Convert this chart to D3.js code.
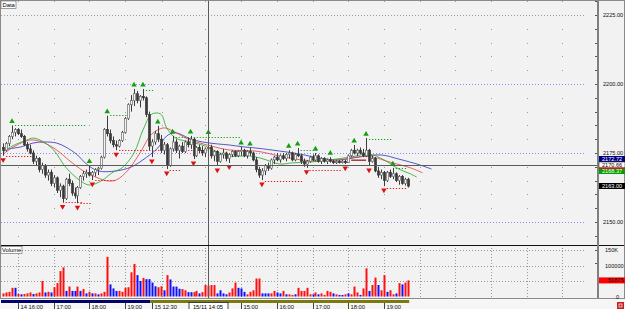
<!DOCTYPE html>
<html>
<head>
<meta charset="utf-8">
<script src="https://cdn.jsdelivr.net/npm/d3@7/dist/d3.min.js"></script>
<style>
  body { margin: 0; background: #fff; }
  svg { display: block; font-family: "Liberation Sans", Arial, sans-serif; }
</style>
</head>
<body>
<div id="chart"></div>
<script>
// 5-minute candles, bar index 0 = 14 Nov 15:35 ... 136 = 15 Nov 19:40
const opens  = [2177,2176,2178.5,2181,2182.5,2183.5,2182,2181,2178,2176.5,2175,2172,2173,2169,2170.5,2167,2168,2164,2166,2161.5,2163,2158.5,2165.5,2164,2160.5,2159.5,2162.5,2166.5,2167.5,2168,2167,2168,2169,2169.5,2173.5,2183.5,2182,2179.5,2178,2177.5,2179.5,2182.5,2187.5,2192.5,2194,2196.5,2194,2195.5,2195,2189,2177.5,2179,2182,2180,2176,2178,2170.5,2176.5,2179,2176,2177.5,2175.5,2179,2178,2180,2174,2177,2176,2175,2176.5,2177,2174,2175.5,2172,2174.5,2175,2173,2174.5,2175.5,2174,2175.5,2176,2174,2175.5,2175,2172.5,2169,2167,2168.5,2170.5,2169.5,2172.5,2173.5,2172.5,2174,2173,2174.5,2175,2172.5,2174.5,2174,2172,2171,2172,2173.5,2172.5,2174,2172,2173,2172,2172.5,2172,2171.5,2172,2171.5,2172,2171.5,2174,2176,2175,2176,2175,2174,2176,2172,2173,2168.5,2167,2168,2165,2168,2166.5,2167.5,2165,2166.5,2164,2165.5];
const highs  = [2178.5,2179,2181.5,2185,2184,2184,2183.5,2181.5,2179,2178,2176,2174,2173.5,2171.5,2171,2169,2169,2167,2166.5,2164,2163.5,2166,2167.5,2165,2162.5,2163,2167,2168.5,2169,2170.5,2168.5,2169.5,2170,2174,2184,2188.5,2183.5,2181,2179.5,2180,2183,2188,2193,2196,2198.2,2197.5,2196,2198.2,2195.5,2190,2180,2183,2184.8,2181.5,2179,2178.6,2177,2181.2,2180,2178,2179,2179.5,2180.5,2181.2,2180.5,2177.5,2178,2177.5,2177,2181,2178,2176,2176,2175,2176.5,2175.5,2175,2176,2176,2176,2177.2,2176.5,2176,2176.8,2175.5,2173.5,2170,2169.5,2171,2171.5,2173,2174,2175,2174.5,2175,2175,2176,2175.5,2175,2176.8,2174.5,2173,2172.5,2174,2174.5,2175,2174.5,2173.5,2173.5,2173,2173.5,2172.5,2172.5,2172.5,2172.5,2172.5,2174.5,2176.5,2177.9,2176.5,2177,2176.5,2180.4,2176.5,2174,2173.5,2170,2169,2168.5,2168.5,2169,2169.6,2168,2167,2167,2166,2166];
const lows   = [2174,2175.5,2177.5,2180,2181,2181.5,2180.5,2177.5,2175.5,2174.5,2171,2170.5,2168,2167.5,2166,2165,2163,2162.5,2160.5,2159,2157,2158,2163,2159.5,2158.5,2156.8,2162,2165,2166,2166.5,2165.2,2166.5,2167,2169,2173,2181,2178.5,2177,2176,2177,2179,2182,2187,2190,2192,2193,2191.5,2194,2188,2176,2173.5,2178,2179,2175,2174.5,2169.2,2170,2175.5,2175,2173,2175,2175,2177,2176.5,2172.8,2173.5,2175,2174,2173.5,2175.5,2173,2172,2170.3,2171.5,2173,2172,2171.4,2173.5,2173.5,2173.5,2174,2173.5,2173,2174,2172,2168,2166,2165.2,2167,2168.5,2169,2171,2172,2171.5,2172.5,2172,2173,2172,2172,2173.5,2171,2170,2169.6,2171.5,2172,2172,2171.5,2171,2171.5,2171,2171.5,2171,2171,2171.2,2171.2,2171,2171.5,2173.5,2174.5,2174,2174.5,2173.5,2173.5,2170.3,2171.5,2168,2166,2165.5,2163,2164.5,2166,2165.5,2164.5,2163.5,2163.5,2163.2,2162.5];
const closes = [2176,2178.5,2181,2182.5,2183.5,2182,2181,2178,2176.5,2175,2172,2173,2169,2170.5,2167,2168,2164,2166,2161.5,2163,2158.5,2165.5,2164,2160.5,2159.5,2162.5,2166.5,2167.5,2168,2167,2168,2169,2169.5,2173.5,2183.5,2182,2179.5,2178,2177.5,2179.5,2182.5,2187.5,2192.5,2194,2196.5,2194,2195.5,2195,2189,2177.5,2179,2182,2180,2176,2178,2170.5,2176.5,2179,2176,2177.5,2175.5,2179,2178,2180,2174,2177,2176,2175,2176.5,2177,2174,2175.5,2172,2174.5,2175,2173,2174.5,2175.5,2174,2175.5,2176,2174,2175.5,2175,2172.5,2169,2167,2168.5,2170.5,2169.5,2172.5,2173.5,2172.5,2174,2173,2174.5,2175,2172.5,2174.5,2174,2172,2171,2172,2173.5,2172.5,2174,2172,2173,2172,2172.5,2172,2171.5,2172,2171.5,2172,2171.5,2174,2176,2175,2176,2175,2174,2176,2172,2173,2168.5,2167,2168,2165,2168,2166.5,2167.5,2165,2166.5,2164,2165.5,2163];
// volume (thousands) and bar colour as drawn, ten bars per row
const volumes = [
  10,13,15,28,28,8,7,8,10,13,
  8,10,13,50,13,15,13,30,43,82,
  94,18,32,18,18,32,18,24,10,15,
  10,10,7,10,15,128,39,26,18,18,
  15,28,30,78,105,69,50,60,56,56,
  45,33,30,33,20,69,55,32,32,25,
  24,20,14,14,14,18,10,14,37,35,
  37,37,10,20,10,7,13,26,45,28,
  26,15,7,15,20,58,58,10,10,10,
  10,18,13,10,18,7,7,5,7,28,
  18,18,28,7,7,13,7,10,5,18,
  15,10,7,5,5,7,10,7,32,13,
  5,26,91,18,37,61,37,20,69,15,
  20,7,10,43,39,45,52];
const volColors = [
  'rrrrbrbrrr','brrrbrbrrr','rbrbbrbrbr','brbrrrbbbr','rrrrrbbrbb',
  'bbrrbrbbbb','rrbbrrbrrr','rrbbbbrrrb','bbrrrrrbbb','rrbbrbrrbr',
  'rrrrbrbrrr','rbrbbrbrrr','brrbrrbrrb','rrbrbrr'].join('');

// Alligator lines: [bar index, price]
const jaw   = [[0,2175.7],[2,2176.5],[6,2177.2],[10,2178.6],[14,2179.0],[18,2178.6],[21,2177.2],[25,2174.3],[28,2171.0],[32,2168.5],[38,2168.5],[43,2169.9],[47,2172.5],[52,2176.8],[55,2181.2],[58,2182.3],[63,2180.1],[67,2179.0],[72,2178.3],[76,2177.9],[81,2177.2],[85,2176.8],[93,2175.7],[100,2174.6],[106,2173.2],[113,2172.5],[120,2173.6],[127,2174.3],[133,2172.8],[140,2170.7],[144,2169.2]];
const teeth = [[0,2174.6],[4,2177.5],[9,2179.7],[13,2179.0],[18,2176.1],[22,2172.5],[27,2168.5],[32,2165.9],[35,2164.9],[38,2165.2],[42,2168.8],[46,2175.0],[50,2181.9],[54,2184.1],[57,2183.0],[62,2180.1],[65,2179.0],[70,2177.5],[76,2176.1],[85,2175.7],[93,2173.9],[100,2172.5],[106,2172.1],[113,2172.5],[119,2173.6],[124,2173.6],[130,2171.7],[137,2169.6],[141,2167.8]];
const lips  = [[0,2175.4],[3,2177.5],[8,2179.7],[10,2180.4],[13,2179.4],[17,2176.1],[21,2169.9],[26,2164.9],[29,2163.4],[33,2164.9],[37,2168.1],[40,2169.6],[44,2175.0],[47,2183.3],[50,2189.1],[53,2189.1],[55,2184.1],[58,2180.4],[63,2179.0],[68,2177.5],[72,2175.4],[76,2173.9],[83,2173.9],[87,2173.0],[93,2171.0],[97,2171.4],[103,2171.7],[110,2172.5],[117,2173.6],[123,2174.6],[128,2172.5],[133,2169.2],[137,2167.4],[139,2166.3]];

// fractals: [bar index, price]
const fractalUp   = [[3,2185],[29,2170.5],[35,2188.5],[44,2198.2],[47,2198.2],[52,2184.8],[57,2181.2],[63,2181.2],[69,2181],[80,2177.2],[83,2176.8],[96,2176],[99,2176.8],[105,2175],[110,2173.5],[118,2177.9],[122,2180.4],[131,2169.6]];
const fractalDown = [[0,2174],[20,2157],[25,2156.8],[30,2165.2],[38,2176],[50,2173.5],[55,2169.2],[64,2172.8],[72,2170.3],[76,2171.4],[87,2165.2],[102,2169.6],[115,2171],[123,2170.3],[128,2163]];
// fractal levels: [from, to, price]
const upLevels   = [[4,28,2185],[36,42,2188.8],[48,51,2197.8],[58,80,2180.9],[100,106,2176.2],[123,131,2180],[132,136,2169.6]];
const downLevels = [[1,10,2173.9],[21,27,2157.2],[26,30,2157],[31,38,2165.2],[39,69,2176],[56,60,2168.8],[73,90,2170.6],[88,101,2165],[103,114,2168.8],[129,136,2162.3]];
// short drawn line: [from, to, price]
const drawnLine = [117, 122, 2172.4];

const priceTicks = [2150, 2175, 2200, 2225];
const gridBars = [5,17,29,41,53.5,68,80,92,104,116,128,140,152,164,176,188];
const timeTicks = [[5,'14 16:00'],[17,'17:00'],[29,'18:00'],[41,'19:00'],[50,'15 12:30'],[80,'15:00'],[92,'16:00'],[104,'17:00'],[116,'18:00'],[128,'19:00']];
const volTicks = [[150000,'150K'],[100000,'100000'],[0,'0']];
const sideLabels = [[2172.72,'#000080','#fff'],[2170.66,'#fff','#000'],[2168.37,'#00a000','#fff'],[2163.00,'#000','#fff']];
const crossBar = 69, crossPrice = 2170.66, lastVolume = 51875;

const W = 625, H = 309;
const axisX = 598;
const svg = d3.select('#chart').append('svg').attr('width', W).attr('height', H);

const x = d3.scaleLinear().domain([0, 136]).range([3.1, 3.1 + 136 * 2.975]);
const y = d3.scaleLinear().domain([2150, 2225]).range([222, 15]);
const yv = d3.scaleLinear().domain([0, 150000]).range([296.5, 250]);

// backgrounds
svg.append('rect').attr('width', W).attr('height', H).attr('fill', '#f2f2f2');
svg.append('rect').attr('x', 0).attr('y', 298).attr('width', W).attr('height', 11).attr('fill', '#f6f6f6');

const defs = svg.append('defs');
defs.append('clipPath').attr('id', 'cp').append('rect').attr('x', 1).attr('y', 1).attr('width', axisX - 1).attr('height', 243);
defs.append('clipPath').attr('id', 'cv').append('rect').attr('x', 1).attr('y', 247).attr('width', axisX - 1).attr('height', 50);

const pricePlot = svg.append('g').attr('clip-path', 'url(#cp)');
const volPlot = svg.append('g').attr('clip-path', 'url(#cv)');

// dot grid on price panel
const dotLevels = d3.range(2135, 2241, 5).filter(p => p % 25 !== 0);
gridBars.forEach(b => {
  pricePlot.selectAll(null).data(dotLevels).enter().append('rect')
    .attr('x', Math.round(x(b))).attr('y', d => Math.round(y(d)))
    .attr('width', 1).attr('height', 1).attr('fill', '#9a9a9a');
});
pricePlot.selectAll('.hgrid').data(priceTicks).enter().append('line')
  .attr('x1', 1).attr('x2', 585)
  .attr('y1', d => Math.round(y(d)) + 0.5).attr('y2', d => Math.round(y(d)) + 0.5)
  .attr('stroke', d => d === 2225 ? '#a09a90' : '#8c8cf0')
  .attr('stroke-dasharray', '1,2');

// volume grid
volPlot.selectAll('.vg').data([50000, 100000, 150000]).enter().append('line')
  .attr('x1', 1).attr('x2', 585)
  .attr('y1', d => Math.round(yv(d)) + 0.5).attr('y2', d => Math.round(yv(d)) + 0.5)
  .attr('stroke', '#9a9a9a').attr('stroke-dasharray', '1,2');
volPlot.selectAll('.vgx').data(gridBars).enter().append('line')
  .attr('x1', d => Math.round(x(d)) + 0.5).attr('x2', d => Math.round(x(d)) + 0.5)
  .attr('y1', 248).attr('y2', 297)
  .attr('stroke', '#9a9a9a').attr('stroke-dasharray', '1,2');

// alligator
const line = d3.line().x(d => x(d[0])).y(d => y(d[1])).curve(d3.curveCatmullRom);
[[jaw, '#3a3ac0'], [teeth, '#e04848'], [lips, '#2eaa2e']].forEach(([d, c]) => {
  pricePlot.append('path').datum(d).attr('d', line)
    .attr('fill', 'none').attr('stroke', c).attr('stroke-width', 1).attr('opacity', 0.85);
});

// fractal levels
const lvl = (data, c) => pricePlot.selectAll(null).data(data).enter().append('line')
  .attr('x1', d => x(d[0])).attr('x2', d => x(d[1]))
  .attr('y1', d => Math.round(y(d[2])) + 0.5).attr('y2', d => Math.round(y(d[2])) + 0.5)
  .attr('stroke', c).attr('stroke-width', 1.2).attr('stroke-dasharray', '1.2,1.8');
lvl(upLevels, '#10a010');
lvl(downLevels, '#e01010');
pricePlot.append('line')
  .attr('x1', x(drawnLine[0])).attr('x2', x(drawnLine[1]))
  .attr('y1', y(drawnLine[2])).attr('y2', y(drawnLine[2]))
  .attr('stroke', '#8a1010').attr('stroke-width', 1.2);

// candles
const idx = d3.range(opens.length);
pricePlot.selectAll('.wick').data(idx).enter().append('line')
  .attr('x1', i => Math.round(x(i)) + 0.5).attr('x2', i => Math.round(x(i)) + 0.5)
  .attr('y1', i => y(highs[i])).attr('y2', i => y(lows[i]))
  .attr('stroke', '#3c3c3c').attr('stroke-width', 1);
pricePlot.selectAll('.body').data(idx).enter().append('rect')
  .attr('x', i => Math.round(x(i)) - 0.5)
  .attr('y', i => y(Math.max(opens[i], closes[i])))
  .attr('width', 2)
  .attr('height', i => Math.max(1, Math.abs(y(opens[i]) - y(closes[i]))))
  .attr('fill', i => closes[i] >= opens[i] ? '#f4f4f4' : '#3a3a3a')
  .attr('stroke', i => closes[i] >= opens[i] ? '#6a6a6a' : '#3a3a3a')
  .attr('stroke-width', 0.7);

// fractal markers
const tri = d3.symbol().type(d3.symbolTriangle).size(13);
pricePlot.selectAll('.fu').data(fractalUp).enter().append('path')
  .attr('d', tri).attr('fill', '#10a010')
  .attr('transform', d => `translate(${x(d[0])},${y(d[1]) - 4})`);
pricePlot.selectAll('.fd').data(fractalDown).enter().append('path')
  .attr('d', tri).attr('fill', '#e01010')
  .attr('transform', d => `translate(${x(d[0])},${y(d[1]) + 4}) rotate(180)`);

// volume bars
volPlot.selectAll('.vb').data(idx).enter().append('rect')
  .attr('x', i => Math.round(x(i)) - 0.5)
  .attr('y', i => yv(volumes[i] * 1000))
  .attr('width', 2)
  .attr('height', i => yv(0) - yv(volumes[i] * 1000))
  .attr('fill', i => volColors[i] === 'r' ? '#ff1010' : '#1010ff');

// crosshair
svg.append('line').attr('x1', 1).attr('x2', axisX).attr('y1', Math.round(y(crossPrice)) + 0.5).attr('y2', Math.round(y(crossPrice)) + 0.5)
  .attr('stroke', '#5a5a5a');
svg.append('line').attr('x1', Math.round(x(crossBar)) + 0.5).attr('x2', Math.round(x(crossBar)) + 0.5).attr('y1', 1).attr('y2', 298)
  .attr('stroke', '#5a5a5a');

// panel frames
svg.append('line').attr('x1', 0).attr('x2', W).attr('y1', 245.5).attr('y2', 245.5).attr('stroke', '#111').attr('stroke-width', 1.2);
svg.append('line').attr('x1', axisX).attr('x2', axisX).attr('y1', 0).attr('y2', 298).attr('stroke', '#808080').attr('stroke-width', 2);
svg.append('rect').attr('x', 0.5).attr('y', 0.5).attr('width', W - 1).attr('height', 298).attr('fill', 'none').attr('stroke', '#8a8a8a');

// right price axis
const ticksMinor = d3.range(2135, 2241, 5);
svg.selectAll('.pt').data(ticksMinor).enter().append('line')
  .attr('x1', axisX - 3).attr('x2', axisX - 1)
  .attr('y1', d => Math.round(y(d)) + 0.5).attr('y2', d => Math.round(y(d)) + 0.5)
  .attr('stroke', '#555');
svg.selectAll('.pl').data(priceTicks).enter().append('text')
  .attr('x', 603).attr('y', d => y(d) + 2)
  .attr('font-size', 5.6).attr('fill', '#111')
  .text(d => d3.format('.2f')(d));

// price side labels
const side = svg.selectAll('.sl').data(sideLabels).enter().append('g')
  .attr('transform', d => `translate(${axisX + 1},${Math.round(y(d[0])) - 3})`);
side.append('rect').attr('width', 26).attr('height', 6).attr('fill', d => d[1])
  .attr('stroke', d => d[1] === '#fff' ? '#333' : 'none').attr('stroke-width', 0.6);
side.append('text').attr('x', 3).attr('y', 5).attr('font-size', 5.6).attr('fill', d => d[2])
  .text(d => d3.format('.2f')(d[0]));
svg.append('rect').attr('x', axisX + 1).attr('y', y(2169.6) - 0.5).attr('width', 26).attr('height', 1.5).attr('fill', '#e01010');

// volume axis
svg.selectAll('.vl').data(volTicks).enter().append('text')
  .attr('x', d => d[1] === '0' ? 616 : 605).attr('y', d => yv(d[0]) + 2)
  .attr('font-size', 5.6).attr('fill', '#111').text(d => d[1]);
svg.append('rect').attr('x', axisX + 1).attr('y', yv(lastVolume) - 3).attr('width', 26).attr('height', 6).attr('fill', '#ff0000');
svg.append('text').attr('x', 608).attr('y', yv(lastVolume) + 2).attr('font-size', 5.6).attr('fill', '#111').text(lastVolume);

// panel captions
svg.append('rect').attr('x', 1).attr('y', 1).attr('width', 15).attr('height', 7.5).attr('fill', '#fff').attr('stroke', '#777').attr('stroke-width', 0.7);
svg.append('text').attr('x', 2.5).attr('y', 7).attr('font-size', 5.8).attr('fill', '#000').text('Data');
svg.append('rect').attr('x', 1).attr('y', 246.5).attr('width', 21).attr('height', 7).attr('fill', '#fff').attr('stroke', '#777').attr('stroke-width', 0.7);
svg.append('text').attr('x', 2).attr('y', 252.3).attr('font-size', 5.8).attr('fill', '#000').text('Volume');

// time axis
svg.append('rect').attr('x', 1).attr('y', 300).attr('width', x(49.5) - 1).attr('height', 3).attr('fill', '#00006e');
svg.append('rect').attr('x', x(49.5)).attr('y', 300).attr('width', x(136.5) - x(49.5)).attr('height', 3).attr('fill', '#7a7a10');
const tt = svg.selectAll('.tt').data(timeTicks).enter().append('g')
  .attr('transform', d => `translate(${Math.round(x(d[0])) + 0.5},0)`);
tt.append('line').attr('y1', 303).attr('y2', 309).attr('stroke', '#444');
tt.append('text').attr('x', 2).attr('y', 308.5).attr('font-size', 5.8).attr('fill', '#111').text(d => d[1]);
const cx = Math.round(x(crossBar));
svg.append('rect').attr('x', cx - 19).attr('y', 302.5).attr('width', 39).attr('height', 7).attr('fill', '#fff').attr('stroke', '#222').attr('stroke-width', 0.8);
svg.append('text').attr('x', cx).attr('y', 308.5).attr('text-anchor', 'middle').attr('font-size', 5.8).attr('fill', '#000').text('15/11 14:05');
svg.append('rect').attr('x', 617).attr('y', 302).attr('width', 7).attr('height', 7).attr('fill', '#c02020');
svg.append('rect').attr('x', 619).attr('y', 304).attr('width', 3).attr('height', 3).attr('fill', 'none').attr('stroke', '#fff').attr('stroke-width', 0.7);
</script>
</body>
</html>
